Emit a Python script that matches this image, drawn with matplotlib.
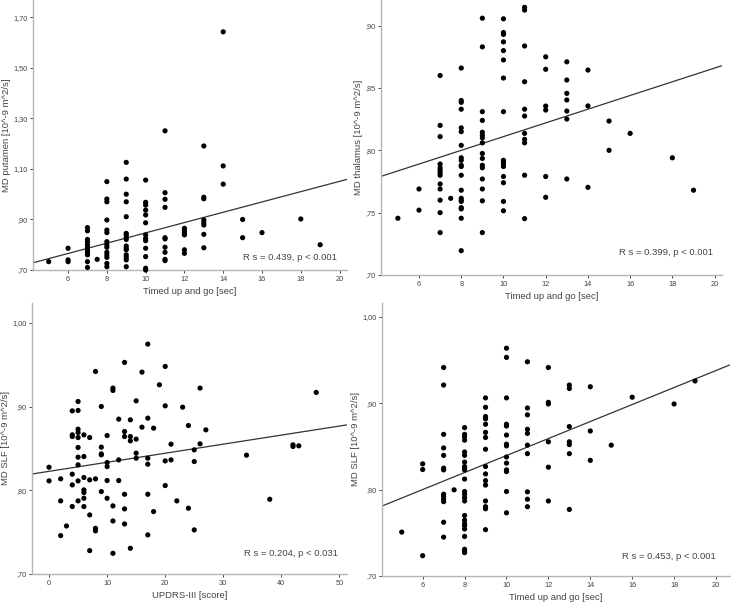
import matplotlib
matplotlib.use('Agg')
import matplotlib.pyplot as plt
from matplotlib.ticker import FuncFormatter

plt.rcParams['font.family'] = ['Liberation Sans', 'DejaVu Sans']

# each panel: x values and, for each x, the MD values
# panel 1: timed up and go vs MD putamen
put_x = [5, 6, 7, 7.5, 8, 9, 10, 11, 12, 13, 14, 15, 16, 18, 19]
put_y = [
    [0.733],
    [0.786, 0.740, 0.733],
    [0.868, 0.855, 0.821, 0.812, 0.800, 0.790, 0.780, 0.770, 0.760, 0.733, 0.710],
    [0.742],
    [1.050, 0.981, 0.970, 0.898, 0.858, 0.848, 0.812, 0.800, 0.790, 0.770, 0.760, 0.750, 0.726, 0.713],
    [1.126, 1.060, 1.000, 0.970, 0.911, 0.845, 0.839, 0.829, 0.821, 0.795, 0.786, 0.780, 0.760, 0.750,
     0.740, 0.713],
    [1.056, 0.968, 0.957, 0.937, 0.918, 0.887, 0.839, 0.825, 0.816, 0.786, 0.753, 0.707, 0.700],
    [1.251, 1.006, 0.980, 0.948, 0.828, 0.823, 0.790, 0.770, 0.742, 0.737],
    [0.865, 0.855, 0.845, 0.839, 0.780, 0.766],
    [1.191, 0.988, 0.982, 0.898, 0.887, 0.878, 0.841, 0.788],
    [1.643, 1.112, 1.040],
    [0.900, 0.828],
    [0.848],
    [0.902],
    [0.800],
]

# panel 2: timed up and go vs MD thalamus
tha_x = [5, 6, 7, 7.5, 8, 9, 10, 11, 12, 13, 14, 15, 16, 18, 19]
tha_y = [
    [0.7455],
    [0.769, 0.752],
    [0.860, 0.820, 0.811, 0.789, 0.786, 0.784, 0.782, 0.780, 0.773, 0.769, 0.760, 0.750, 0.734],
    [0.7615],
    [0.866, 0.840, 0.8385, 0.833, 0.818, 0.815, 0.804, 0.794, 0.792, 0.788, 0.787, 0.780, 0.768, 0.7615,
     0.760, 0.759, 0.754, 0.753, 0.7455, 0.7195],
    [0.906, 0.883, 0.831, 0.824, 0.8145, 0.812, 0.810, 0.806, 0.7975, 0.7935, 0.788, 0.786, 0.777, 0.769,
     0.7595, 0.734],
    [0.9055, 0.8945, 0.893, 0.887, 0.880, 0.8725, 0.858, 0.831, 0.792, 0.791, 0.789, 0.787, 0.779, 0.774,
     0.759, 0.7515],
    [0.9147, 0.9125, 0.8837, 0.855, 0.833, 0.8275, 0.8136, 0.8088, 0.806, 0.780, 0.7452],
    [0.875, 0.865, 0.8355, 0.8323, 0.779, 0.7623],
    [0.871, 0.8564, 0.8457, 0.8404, 0.8315, 0.8251, 0.777],
    [0.8644, 0.8356, 0.7703],
    [0.8235, 0.800],
    [0.8136],
    [0.794],
    [0.768],
]

# panel 3: UPDRS-III vs MD SLF
upd_x = [0, 2, 3, 4, 5, 6, 7, 8, 9, 10, 11, 12, 13, 14, 15, 16, 17, 18, 19, 20, 21, 22, 23, 24,
         25, 26, 27, 34, 38, 42, 43, 46]
upd_y = [
    [0.8276, 0.8113],
    [0.8137, 0.7874, 0.7459],
    [0.7574],
    [0.895, 0.8663, 0.8643, 0.8193, 0.8065, 0.7806],
    [0.9062, 0.8955, 0.8731, 0.8691, 0.8631, 0.8512, 0.8396, 0.8304, 0.8113, 0.7874],
    [0.8663, 0.8404, 0.8153, 0.8005, 0.7973, 0.7905, 0.7806],
    [0.8631, 0.8125, 0.7706, 0.7279],
    [0.9421, 0.8137, 0.7546, 0.7515],
    [0.9002, 0.8516, 0.8436, 0.8424, 0.7985],
    [0.8655, 0.8332, 0.8284, 0.8117, 0.7905],
    [0.9222, 0.9194, 0.7814, 0.7634, 0.7247],
    [0.8851, 0.8364, 0.8117],
    [0.9529, 0.8703, 0.8643, 0.7953, 0.7778, 0.7598],
    [0.8843, 0.8643, 0.8592, 0.7307],
    [0.907, 0.8612, 0.8444, 0.8384],
    [0.9413, 0.8755],
    [0.9748, 0.8863, 0.8384, 0.8312, 0.7953, 0.7467],
    [0.8743, 0.7746],
    [0.9262],
    [0.9481, 0.901, 0.8352, 0.8057],
    [0.8552, 0.8364],
    [0.7874],
    [0.8994],
    [0.8775, 0.7786],
    [0.8484, 0.8344, 0.7527],
    [0.9222, 0.8556],
    [0.8723],
    [0.842],
    [0.7893],
    [0.8544, 0.8524],
    [0.8532],
    [0.917],
]

# panel 4: timed up and go vs MD SLF
slf_x = [5, 6, 7, 7.5, 8, 9, 10, 11, 12, 13, 14, 15, 16, 18, 19]
slf_y = [
    [0.7508],
    [0.8298, 0.8232, 0.7235],
    [0.9413, 0.921, 0.8639, 0.8482, 0.8396, 0.8248, 0.8228, 0.7946, 0.7919, 0.7888, 0.786, 0.7622, 0.745],
    [0.7997],
    [0.8717, 0.8639, 0.8611, 0.8572, 0.8435, 0.8396, 0.8318, 0.8267, 0.8248, 0.8228, 0.8122, 0.7978,
     0.7946, 0.7907, 0.7868, 0.770, 0.7645, 0.7606, 0.7583, 0.7544, 0.7458, 0.7309, 0.7289, 0.727],
    [0.9061, 0.8952, 0.8846, 0.8819, 0.8756, 0.8662, 0.8603, 0.8467, 0.8267, 0.8181, 0.8103, 0.8052,
     0.7868, 0.7802, 0.7778, 0.7536],
    [0.9636, 0.953, 0.9061, 0.8756, 0.8736, 0.8631, 0.8525, 0.8506, 0.8377, 0.8306, 0.8228, 0.8208,
     0.7978, 0.7731],
    [0.9479, 0.8944, 0.8865, 0.8697, 0.865, 0.8514, 0.8416, 0.7974, 0.7888, 0.7802],
    [0.9413, 0.901, 0.8991, 0.8553, 0.8259, 0.7868],
    [0.921, 0.917, 0.8729, 0.8553, 0.8521, 0.8416, 0.777],
    [0.919, 0.8678, 0.8338],
    [0.8514],
    [0.9069],
    [0.8991],
    [0.9257],
]

# fit lines (intercept, slope) as drawn in the figure
fit_intercepts = [0.643, 0.756, 0.8227, 0.741]
fit_slopes = [0.0204, 0.0055, 0.001083, 0.00984]

stats_text = ['R s = 0.439, p < 0.001', 'R s = 0.399, p < 0.001',
              'R s = 0.204, p < 0.031', 'R s = 0.453, p < 0.001']
xlabels = ['Timed up and go [sec]', 'Timed up and go [sec]',
           'UPDRS-III [score]', 'Timed up and go [sec]']
ylabels = ['MD putamen [10^-9 m^2/s]', 'MD thalamus [10^-9 m^2/s]',
           'MD SLF [10^-9 m^2/s]', 'MD SLF [10^-9 m^2/s]']
tug_ticks = [6, 8, 10, 12, 14, 16, 18, 20]
updrs_ticks = [0, 10, 20, 30, 40, 50]
xticks = [tug_ticks, tug_ticks, updrs_ticks, tug_ticks]
yticks = [[0.70, 0.90, 1.10, 1.30, 1.50, 1.70],
          [0.70, 0.75, 0.80, 0.85, 0.90],
          [0.70, 0.80, 0.90, 1.00],
          [0.70, 0.80, 0.90, 1.00]]
xlims = [(4.19, 20.38), (4.2, 20.35), (-2.93, 51.3), (4.06, 20.67)]
ylims = [(0.70, 1.769), (0.70, 0.9206), (0.70, 1.024), (0.70, 1.016)]

panels = [(put_x, put_y), (tha_x, tha_y), (upd_x, upd_y), (slf_x, slf_y)]

# axes boxes in figure fractions
boxes = [[0.0451, 0.5552, 0.4295, 0.4448],
         [0.5212, 0.5470, 0.4665, 0.4530],
         [0.0438, 0.0544, 0.4309, 0.4465],
         [0.5226, 0.0511, 0.4761, 0.4498]]
text_pos = [(0.968, 0.048), (0.974, 0.08), (0.971, 0.077), (0.96, 0.073)]


def spss_fmt(v, pos):
    s = '{:.2f}'.format(v).replace('.', ',')
    if s.startswith('0'):
        s = s[1:]
    return s


fig = plt.figure(figsize=(7.31, 6.07), dpi=100)
for i in range(4):
    ax = fig.add_axes(boxes[i])
    gx, gy = panels[i]
    x = [xv for xv, ys in zip(gx, gy) for _ in ys]
    y = [v for ys in gy for v in ys]
    ax.scatter(x, y, s=14, c='black', edgecolors='none', zorder=3, clip_on=False)
    ax.set_xlim(*xlims[i])
    ax.set_ylim(*ylims[i])
    ax.axline((0, fit_intercepts[i]), slope=fit_slopes[i], color='#333333', lw=0.9, zorder=2)
    ax.set_xticks(xticks[i])
    ax.set_yticks(yticks[i])
    ax.yaxis.set_major_formatter(FuncFormatter(spss_fmt))
    for side in ['top', 'right']:
        ax.spines[side].set_visible(False)
    for side in ['left', 'bottom']:
        ax.spines[side].set_color('#b5b5b5')
        ax.spines[side].set_linewidth(1.0)
    ax.tick_params(length=2.5, width=0.7, color='#444444', labelsize=5.3, labelcolor='#444444', pad=1.5)
    ax.set_xlabel(xlabels[i], fontsize=6.8, color='#444444', labelpad=3)
    ax.set_ylabel(ylabels[i], fontsize=6.8, color='#444444', labelpad=1.5)
    ax.text(text_pos[i][0], text_pos[i][1], stats_text[i], transform=ax.transAxes,
            ha='right', va='center', fontsize=6.8, color='#444444')

fig.savefig('out.png', dpi=100)
